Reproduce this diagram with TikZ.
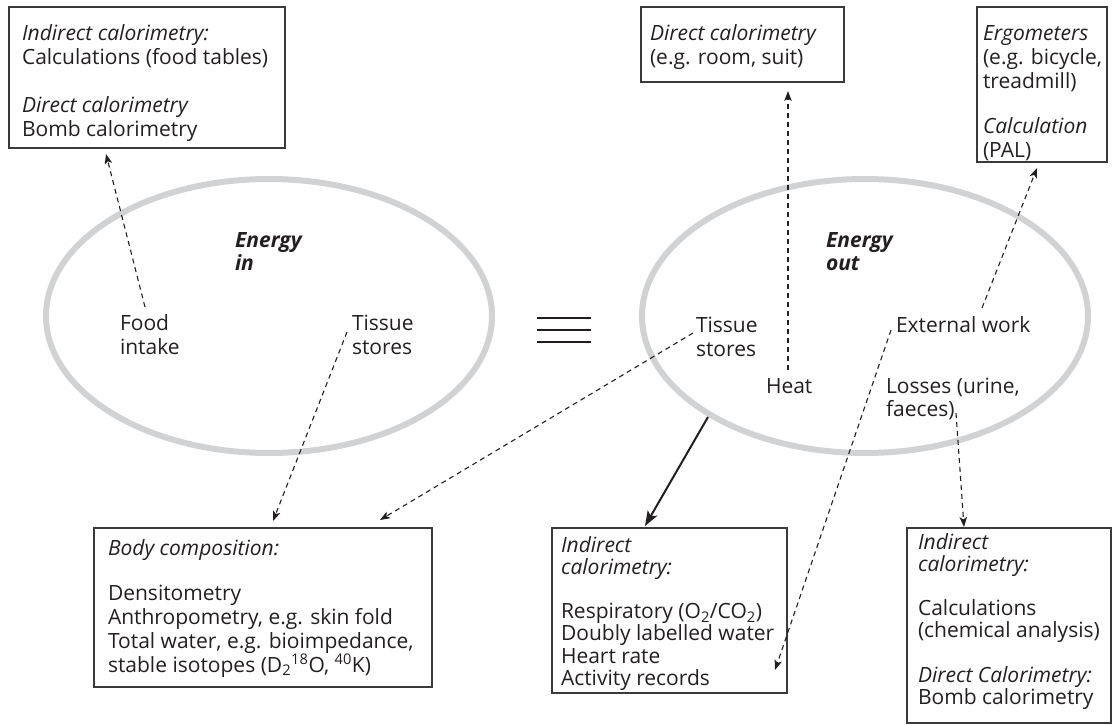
\documentclass[tikz,border=0pt]{standalone}
\usepackage{fontspec}
\setmainfont{Open Sans}
\usetikzlibrary{arrows.meta,shapes.geometric}
\definecolor{txt}{HTML}{231F20}
\definecolor{ell}{HTML}{D1D2D4}
\definecolor{boxc}{HTML}{3A3A3A}
\newcommand{\fsA}{\fontsize{21pt}{24pt}\selectfont}
\newcommand{\fsB}{\fontsize{21pt}{22.3pt}\selectfont}
\newcommand{\fsC}{\fontsize{21pt}{23pt}\selectfont}
\newcommand{\fr}{\rule{0pt}{16pt}}
\begin{document}
\begin{tikzpicture}[x=1pt,y=-1pt,
  boxn/.style={draw=boxc, line width=1.3pt, anchor=north west, inner sep=0pt, outer sep=0pt},
  txtn/.style={anchor=north west, inner sep=0pt, outer sep=0pt, align=left, text=txt},
  ellip/.style={ellipse, draw=ell, line width=6pt, minimum width=446pt, minimum height=274pt, inner sep=0pt},
  dsh/.style={draw=txt, line width=1.1pt, dash pattern=on 5pt off 4pt, -{Stealth[length=10pt,width=7.5pt,inset=2.5pt]}},
  sld/.style={draw=txt, line width=2pt, -{Stealth[length=15pt,width=11pt,inset=3.5pt]}}
]
\useasboundingbox (0,0) rectangle (1113,725);

% ellipses
\node[ellip] (ein) at (269,316) {};
\node[ellip] (eout) at (865,316) {};

% equivalence sign
\draw[line width=2.6pt, draw=txt] (537,318) -- (591,318);
\draw[line width=2.6pt, draw=txt] (537,330) -- (591,330);
\draw[line width=2.6pt, draw=txt] (537,342) -- (591,342);

% boxes
\node[boxn, minimum width=276pt, minimum height=141pt] (b1) at (9,7) {};
\node[boxn, minimum width=203pt, minimum height=75pt] (b2) at (641,7) {};
\node[boxn, minimum width=130pt, minimum height=155pt] (b3) at (977,7) {};
\node[boxn, minimum width=338pt, minimum height=159pt] (bc) at (94,528) {};
\node[boxn, minimum width=235pt, minimum height=165pt] (bm) at (552,528) {};
\node[boxn, minimum width=204pt, minimum height=195pt] (br) at (907,528) {};

% box texts
\node[txtn, font=\fsA] (t1) at (22,24) {\fr\textit{Indirect calorimetry:}\\Calculations (food tables)\\[24pt]\textit{Direct calorimetry}\\Bomb calorimetry};
\node[txtn, font=\fsA] (t2) at (650,24) {\fr\textit{Direct calorimetry}\\(e.g. room, suit)};
\node[txtn, font=\fsA] (t3) at (983,24) {\fr\textit{Ergometers}\\(e.g. bicycle,\\treadmill)\\[21pt]\textit{Calculation}\\(PAL)};
\node[txtn, font=\fsA] (tc) at (108,539) {\fr\textit{Body composition:}\\[21pt]Densitometry\\Anthropometry, e.g. skin fold\\Total water, e.g. bioimpedance,\\stable isotopes (D\textsubscript{2}\textsuperscript{18}O, \textsuperscript{40}K)};
\node[txtn, font=\fsB] (tm) at (561,536) {\fr\textit{Indirect}\\\textit{calorimetry:}\\[22pt]Respiratory (O\textsubscript{2}/CO\textsubscript{2})\\Doubly labelled water\\Heart rate\\Activity records};
\node[txtn, font=\fsB] (tr) at (918,533) {\fr\textit{Indirect}\\\textit{calorimetry:}\\[22pt]Calculations\\(chemical analysis)\\[22pt]\textit{Direct Calorimetry:}\\Bomb calorimetry};

% ellipse texts
\node[txtn, font=\fsC] (ein-t) at (235,231) {\fr\textbf{\textit{Energy}}\\\textbf{\textit{in}}};
\node[txtn, font=\fsA] (food) at (120,314) {\fr Food\\intake};
\node[txtn, font=\fsA] (tsl) at (352,314) {\fr Tissue\\stores};
\node[txtn, font=\fsC] (eout-t) at (826,231) {\fr\textbf{\textit{Energy}}\\\textbf{\textit{out}}};
\node[txtn, font=\fsA] (tsr) at (696,316) {\fr Tissue\\stores};
\node[txtn, font=\fsA] (heat) at (766,377) {\fr Heat};
\node[txtn, font=\fsA] (extw) at (896,316) {\fr External work};
\node[txtn, font=\fsC] (loss) at (886,377) {\fr Losses (urine,\\faeces)};

% connector end points
\coordinate (fi0) at (145,307);  \coordinate (fi1) at (106,154);
\coordinate (tl0) at (347,332);  \coordinate (tl1) at (273,521);
\coordinate (tr0) at (693,333);  \coordinate (tr1) at (380,520);
\coordinate (he0) at (788,370);  \coordinate (he1) at (788,91);
\coordinate (ew0) at (982,308);  \coordinate (ew1) at (1037,168);
\coordinate (ex0) at (891,330);  \coordinate (ex1) at (775,670);
\coordinate (lo0) at (956,413);  \coordinate (lo1) at (964,527);
\coordinate (so0) at (708,417);  \coordinate (so1) at (645,526);

% connectors
\draw[dsh] (fi0) -- (fi1);
\draw[dsh] (tl0) -- (tl1);
\draw[dsh] (tr0) -- (tr1);
\draw[dsh] (he0) -- (he1);
\draw[dsh] (ew0) -- (ew1);
\draw[dsh] (ex0) -- (ex1);
\draw[dsh] (lo0) -- (lo1);
\draw[sld] (so0) -- (so1);
\end{tikzpicture}
\end{document}
